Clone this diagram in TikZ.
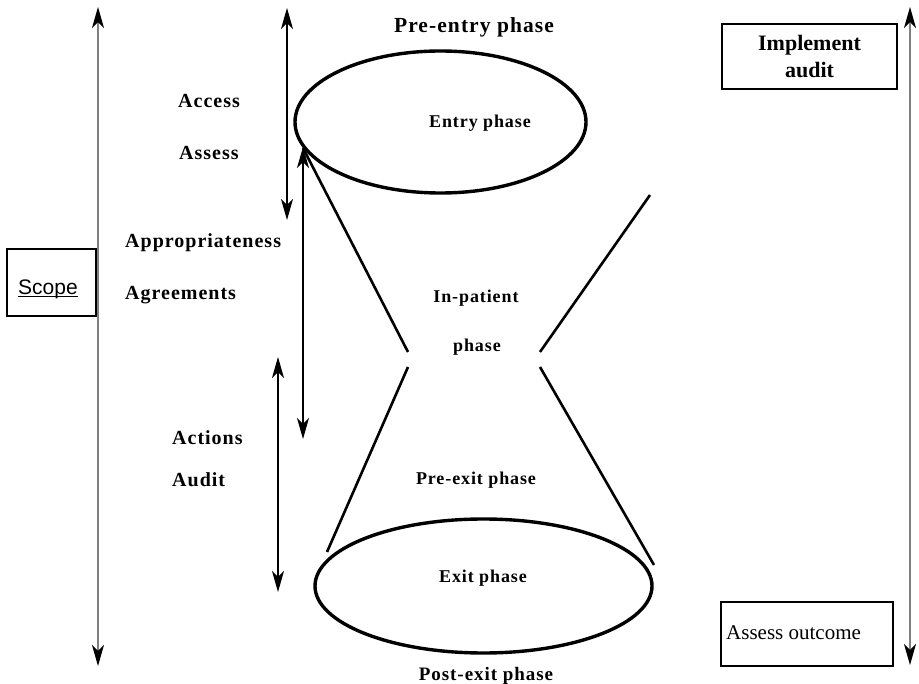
\documentclass[tikz,border=0pt]{standalone}
\usepackage{fontspec}
\setmainfont{Liberation Serif}
\newfontfamily\lblfont[LetterSpace=5]{Liberation Serif}
\newfontfamily\scopefont{Liberation Sans}
\usetikzlibrary{arrows.meta,shapes.geometric}
\newcommand{\myuline}[1]{\setbox0\hbox{#1}\rlap{\rule[-2.5pt]{\wd0}{1.2pt}}\box0}
\begin{document}
\begin{tikzpicture}[x=1pt,y=-1pt,
  lbl/.style={font=\lblfont\bfseries\fontsize{20}{24}\selectfont, anchor=base west, inner sep=0pt},
  mid/.style={font=\lblfont\bfseries\fontsize{18}{22}\selectfont, anchor=base, inner sep=0pt},
  ell/.style={draw, ellipse, line width=3.4pt, inner sep=0pt},
  side/.style={line width=2.6pt},
  longarr/.style={draw=black!50, line width=1.5pt, {Stealth[length=21pt,width=12pt,inset=6pt,color=black]}-{Stealth[length=21pt,width=12pt,inset=6pt,color=black]}},
  shortarr/.style={draw=black, line width=1.2pt, {Stealth[length=21pt,width=12pt,inset=6pt]}-{Stealth[length=21pt,width=12pt,inset=6pt]}},
  box/.style={draw, line width=1.3pt, inner sep=0pt}
]
\useasboundingbox (0,0) rectangle (919,684);

% ellipses
\node[ell, minimum width=291pt, minimum height=142pt] (topell) at (440.5,122) {};
\node[ell, minimum width=337pt, minimum height=134pt] (botell) at (483.5,586) {};

% hourglass sides
\coordinate (ul1) at (303,148);
\coordinate (ul2) at (408,352);
\coordinate (ur1) at (650,195);
\coordinate (ur2) at (540,352);
\coordinate (ll1) at (408,367);
\coordinate (ll2) at (327,552);
\coordinate (lr1) at (540,367);
\coordinate (lr2) at (654,565);
\draw[side] (ul1) -- (ul2);
\draw[side] (ur1) -- (ur2);
\draw[side] (ll1) -- (ll2);
\draw[side] (lr1) -- (lr2);

% long arrows
\coordinate (la1) at (98,7);
\coordinate (la2) at (98,666);
\coordinate (ra1) at (910,7);
\coordinate (ra2) at (910,665);
\draw[longarr] (la1) -- (la2);
\draw[longarr] (ra1) -- (ra2);

% short arrows
\coordinate (a1) at (287,8);
\coordinate (a2) at (287,220);
\coordinate (b1) at (303,147);
\coordinate (b2) at (303,439);
\coordinate (c1) at (278,357);
\coordinate (c2) at (278,592);
\draw[shortarr] (a1) -- (a2);
\draw[shortarr] (b1) -- (b2);
\draw[shortarr] (c1) -- (c2);

% left labels
\node[lbl] (access) at (178,108) {Access};
\node[lbl] (assess) at (179,160) {Assess};
\node[lbl] (approp) at (125,248) {Appropriateness};
\node[lbl] (agree) at (125,300) {Agreements};
\node[lbl] (actions) at (172,445) {Actions};
\node[lbl] (audit) at (172,487) {Audit};

% phase labels
\node[mid, font=\lblfont\bfseries\fontsize{21.5}{24}\selectfont] (preentry) at (474,33) {Pre-entry phase};
\node[mid] (entry) at (480,128) {Entry phase};
\node[mid] (inpat) at (476,303) {In-patient};
\node[mid] (inpat2) at (477,352) {phase};
\node[mid] (preexit) at (476,485) {Pre-exit phase};
\node[mid] (exit) at (483,582) {Exit phase};
\node[mid, font=\lblfont\bfseries\fontsize{19}{22}\selectfont] (postexit) at (486,680) {Post-exit phase};

% boxes
\node[box, minimum width=89pt, minimum height=67pt] (scopebox) at (51.5,282.5) {};
\node[anchor=base, inner sep=0pt, font=\scopefont\fontsize{21}{24}\selectfont] (scope) at (48,295) {\myuline{Scope}};
\node[box, minimum width=175pt, minimum height=65pt, align=center, font=\bfseries\fontsize{22}{27}\selectfont] (impl) at (809.5,56.5) {Implement\\audit};
\node[box, minimum width=172pt, minimum height=64pt] (outbox) at (807,634) {};
\node[anchor=base west, inner sep=0pt, font=\fontsize{21}{24}\selectfont] (outcome) at (726,639) {Assess outcome};
\end{tikzpicture}
\end{document}
